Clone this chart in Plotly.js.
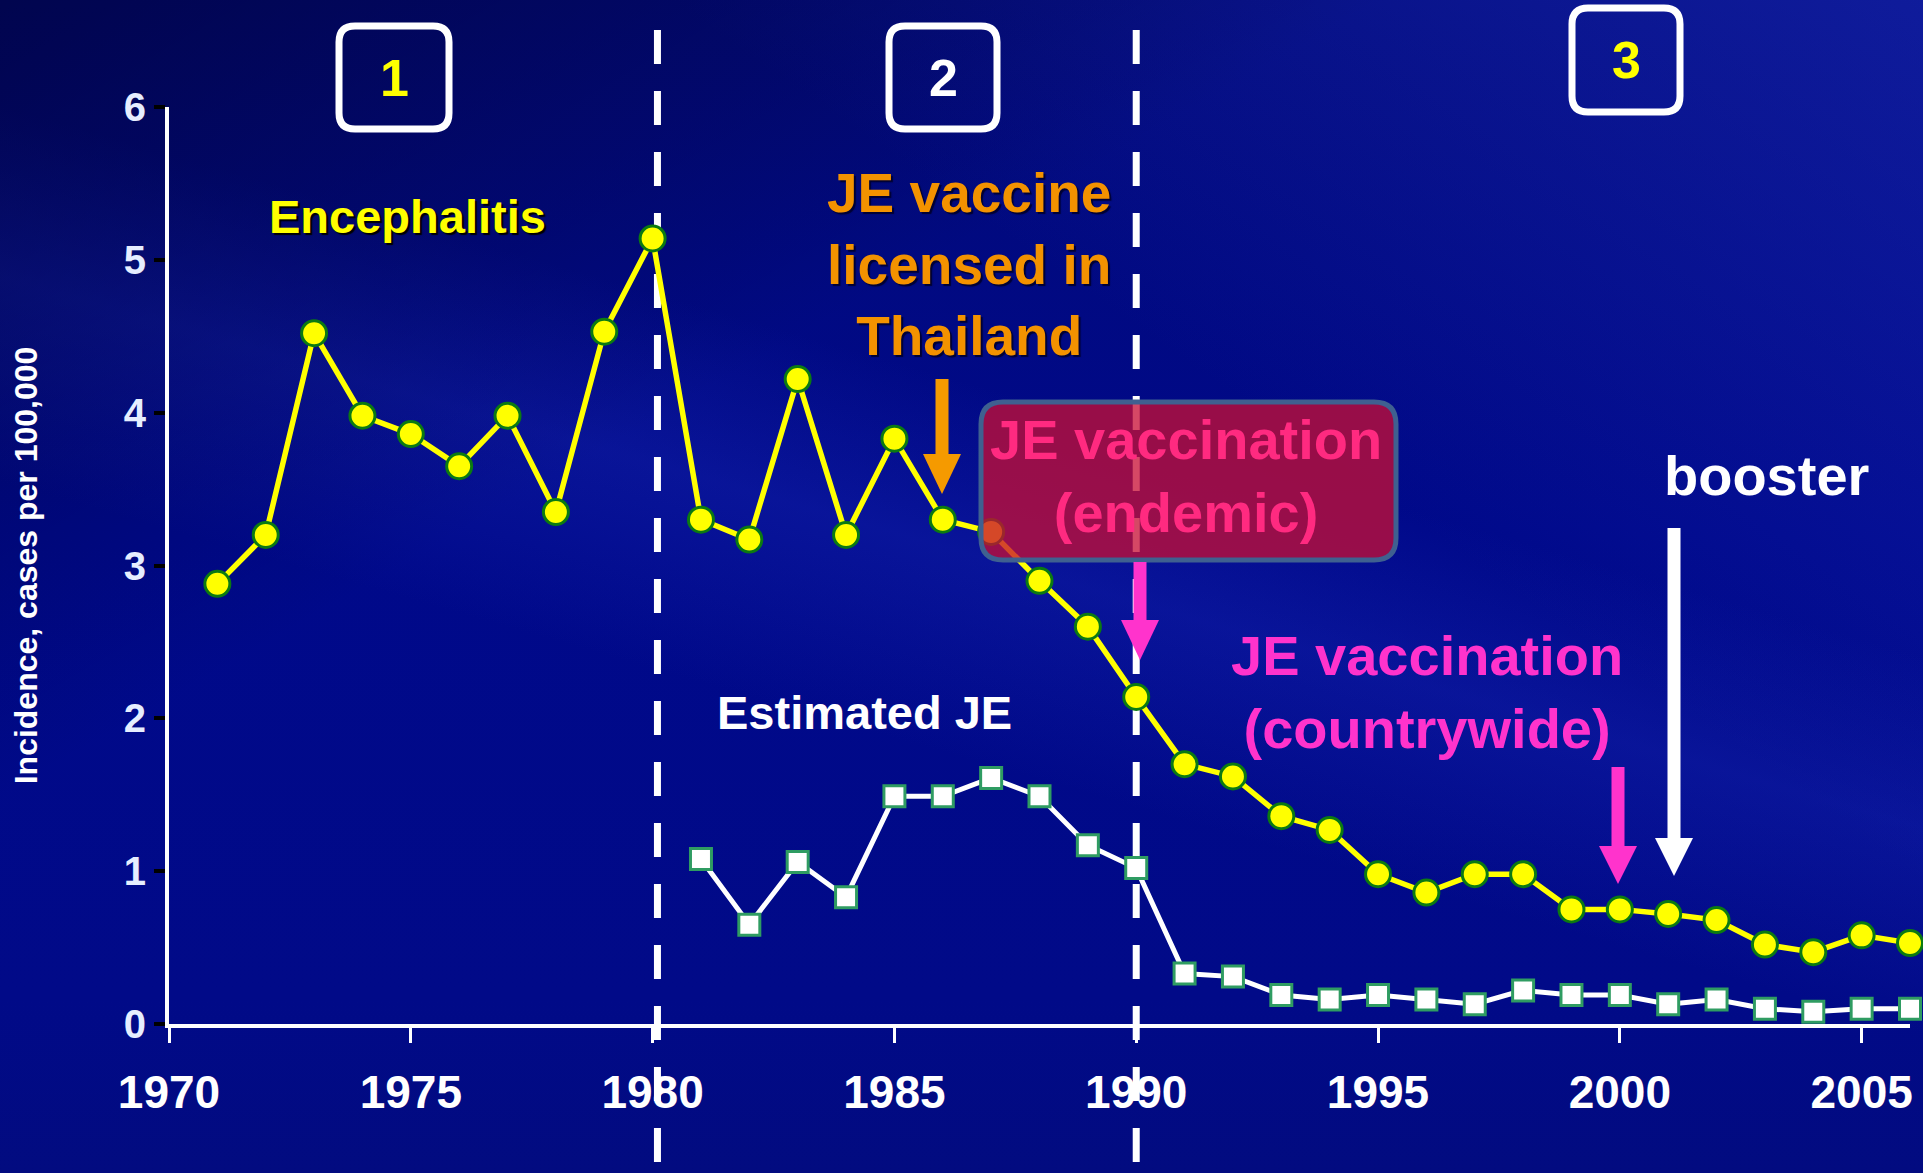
<!DOCTYPE html>
<html>
<head>
<meta charset="utf-8">
<script src="https://cdn.plot.ly/plotly-3.0.1.min.js"></script>
<style>
  html, body { margin: 0; padding: 0; width: 1923px; height: 1173px; overflow: hidden; background: #00098a; }
  #bg {
    position: absolute; left: 0; top: 0; width: 1923px; height: 1173px;
    background:
      linear-gradient(150deg, rgba(0,0,45,0.55) 0%, rgba(0,0,45,0.0) 35%),
      linear-gradient(196deg, rgba(40,60,210,0) 38%, rgba(40,60,210,0.22) 48%, rgba(40,60,210,0) 60%),
      linear-gradient(215deg, rgba(40,60,220,0.35) 0%, rgba(40,60,220,0) 35%),
      linear-gradient(180deg, #020a78 0%, #00098a 45%, #010a88 85%, #020b80 100%);
  }
  #chart { position: absolute; left: 0; top: 0; width: 1923px; height: 1173px; }
</style>
</head>
<body>
<div id="bg"></div>
<div id="chart"></div>
<script>
// ---------------- data ----------------
const years = [1971, 1972, 1973, 1974, 1975, 1976, 1977, 1978, 1979, 1980,
               1981, 1982, 1983, 1984, 1985, 1986, 1987, 1988, 1989, 1990,
               1991, 1992, 1993, 1994, 1995, 1996, 1997, 1998, 1999, 2000,
               2001, 2002, 2003, 2004, 2005, 2006];
const encephalitis = [2.88, 3.20, 4.52, 3.98, 3.86, 3.65, 3.98, 3.35, 4.53, 5.14,
                      3.30, 3.17, 4.22, 3.20, 3.83, 3.30, 3.22, 2.90, 2.60, 2.14,
                      1.70, 1.62, 1.36, 1.27, 0.98, 0.86, 0.98, 0.98, 0.75, 0.75,
                      0.72, 0.68, 0.52, 0.47, 0.58, 0.53];
const estYears = [1981, 1982, 1983, 1984, 1985, 1986, 1987, 1988, 1989, 1990,
                  1991, 1992, 1993, 1994, 1995, 1996, 1997, 1998, 1999, 2000,
                  2001, 2002, 2003, 2004, 2005, 2006];
const estimatedJE = [1.08, 0.65, 1.06, 0.83, 1.49, 1.49, 1.61, 1.49, 1.17, 1.02,
                     0.33, 0.31, 0.19, 0.16, 0.19, 0.16, 0.13, 0.22, 0.19, 0.19,
                     0.13, 0.16, 0.10, 0.08, 0.10, 0.10];
const xTicks = [1970, 1975, 1980, 1985, 1990, 1995, 2000, 2005];
const yTicks = [0, 1, 2, 3, 4, 5, 6];
const periodLines = [1980.1, 1990];
const periodLabels = ['1', '2', '3'];
const yTitle = 'Incidence, cases per 100,000';

// ---------------- layout helpers (pixel -> paper) ----------------
const W = 1923, H = 1173;
const PL = { l: 169, r: 1910, t: 107, b: 1024 };
const px = x => (x - PL.l) / (PL.r - PL.l);
const py = y => (PL.b - y) / (PL.b - PL.t);
const FONT = '"Liberation Sans", Arial, Helvetica, sans-serif';

function rrect(x0, y0, x1, y1, r) {
  const P = (x, y) => px(x).toFixed(5) + ',' + py(y).toFixed(5);
  return 'M' + P(x0 + r, y0) + ' L' + P(x1 - r, y0) + ' Q' + P(x1, y0) + ' ' + P(x1, y0 + r) +
         ' L' + P(x1, y1 - r) + ' Q' + P(x1, y1) + ' ' + P(x1 - r, y1) +
         ' L' + P(x0 + r, y1) + ' Q' + P(x0, y1) + ' ' + P(x0, y1 - r) +
         ' L' + P(x0, y0 + r) + ' Q' + P(x0, y0) + ' ' + P(x0 + r, y0) + ' Z';
}
function arrowShapes(xc, yTop, yBase, yTip, color) {
  const hw = 19;
  return [
    { type: 'line', xref: 'paper', yref: 'paper', x0: px(xc), x1: px(xc), y0: py(yTop), y1: py(yBase + 2),
      line: { color: color, width: 13 }, layer: 'above' },
    { type: 'path', xref: 'paper', yref: 'paper',
      path: 'M' + px(xc - hw) + ',' + py(yBase) + ' L' + px(xc + hw) + ',' + py(yBase) + ' L' + px(xc) + ',' + py(yTip) + ' Z',
      fillcolor: color, line: { width: 0 }, layer: 'above' }
  ];
}

// ---------------- traces ----------------
const traces = [
  {
    x: estYears, y: estimatedJE, type: 'scatter', mode: 'lines+markers', name: 'Estimated JE',
    line: { color: '#ffffff', width: 5 },
    marker: { symbol: 'square', size: 21, color: '#ffffff', line: { color: '#2f9c62', width: 3 } },
    cliponaxis: false, hoverinfo: 'x+y'
  },
  {
    x: years, y: encephalitis, type: 'scatter', mode: 'lines+markers', name: 'Encephalitis',
    line: { color: '#ffff00', width: 5.5 },
    marker: { symbol: 'circle', size: 25, color: '#ffff00', line: { color: '#0b7a12', width: 3 } },
    cliponaxis: false, hoverinfo: 'x+y'
  }
];

// ---------------- shapes ----------------
const shapes = [];
periodLines.forEach(yr => shapes.push({
  type: 'line', xref: 'x', yref: 'paper', x0: yr, x1: yr, y0: py(30), y1: py(1180),
  line: { color: '#ffffff', width: 7, dash: '34px,27px' }, layer: 'below'
}));
// period boxes
const boxes = [[339, 26, 449, 129], [889, 26, 997, 129], [1572, 8, 1680, 112]];
boxes.forEach(b => shapes.push({
  type: 'path', xref: 'paper', yref: 'paper', path: rrect(b[0], b[1], b[2], b[3], 16),
  line: { color: '#ffffff', width: 7 }, fillcolor: 'rgba(0,0,0,0)', layer: 'above'
}));
// endemic vaccination box
shapes.push({
  type: 'path', xref: 'paper', yref: 'paper', path: rrect(981, 402, 1396, 560, 22),
  line: { color: '#3f6090', width: 5 }, fillcolor: 'rgba(200,14,52,0.76)', layer: 'above'
});
// arrows
shapes.push(...arrowShapes(942, 379, 454, 494, '#f59a00'));
shapes.push(...arrowShapes(1140, 562, 620, 660, '#ff33cc'));
shapes.push(...arrowShapes(1618, 767, 846, 884, '#ff33cc'));
shapes.push(...arrowShapes(1674, 528, 838, 876, '#ffffff'));

// ---------------- annotations ----------------
function ann(text, xc, yc, size, color, extra) {
  return Object.assign({
    text: text, xref: 'paper', yref: 'paper', x: px(xc), y: py(yc),
    xanchor: 'center', yanchor: 'middle', showarrow: false,
    font: { family: FONT, size: size, color: color, weight: 'bold' }
  }, extra || {});
}
const annotations = [
  ann(periodLabels[0], 394, 78, 52, '#ffff00'),
  ann(periodLabels[1], 943, 78, 52, '#ffffff'),
  ann(periodLabels[2], 1626, 60, 52, '#ffff00'),
  ann('Encephalitis', 407, 216, 47, '#ffff00', { font: { family: FONT, size: 47, color: '#ffff00', weight: 'bold', shadow: '2px 2px 1px #000000' } }),
  ann('JE vaccine<br>licensed in<br>Thailand', 969, 264, 55, '#f39200', { font: { family: FONT, size: 55, color: '#f39200', weight: 'bold', shadow: '2px 2px 1px #000033' } }),
  ann('JE vaccination<br>(endemic)', 1186, 476, 56, '#ff2a80'),
  ann('JE vaccination<br>(countrywide)', 1427, 692, 56, '#ff33cc'),
  ann('booster', 1766, 475, 56, '#ffffff'),
  ann('Estimated JE', 864, 713, 47, '#ffffff')
];

// ---------------- layout ----------------
const layout = {
  width: W, height: H,
  margin: { l: PL.l, r: W - PL.r, t: PL.t, b: H - PL.b, pad: 0 },
  paper_bgcolor: 'rgba(0,0,0,0)', plot_bgcolor: 'rgba(0,0,0,0)',
  showlegend: false,
  font: { family: FONT, color: '#ffffff' },
  xaxis: {
    range: [1970, 2006], tickvals: xTicks, ticktext: xTicks.map(String),
    showgrid: false, zeroline: false, showline: true, linecolor: '#ffffff', linewidth: 4,
    ticks: 'outside', ticklen: 15, tickwidth: 3, tickcolor: '#ffffff',
    tickfont: { family: FONT, size: 46, color: '#ffffff', weight: 'bold' },
    ticklabelstandoff: 10, automargin: false, fixedrange: true
  },
  yaxis: {
    range: [0, 6], tickvals: yTicks, ticktext: yTicks.map(String),
    showgrid: false, zeroline: false, showline: true, linecolor: '#ffffff', linewidth: 4,
    ticks: 'outside', ticklen: 11, tickwidth: 4, tickcolor: '#000000',
    tickfont: { family: FONT, size: 40, color: '#e6eeff', weight: 'bold' },
    ticklabelstandoff: 0, automargin: false, fixedrange: true,
    title: { text: yTitle, font: { family: FONT, size: 32, color: '#ffffff', weight: 'bold' }, standoff: 78 }
  },
  shapes: shapes,
  annotations: annotations
};

Plotly.newPlot('chart', traces, layout, { displayModeBar: false, staticPlot: true });
</script>
</body>
</html>
